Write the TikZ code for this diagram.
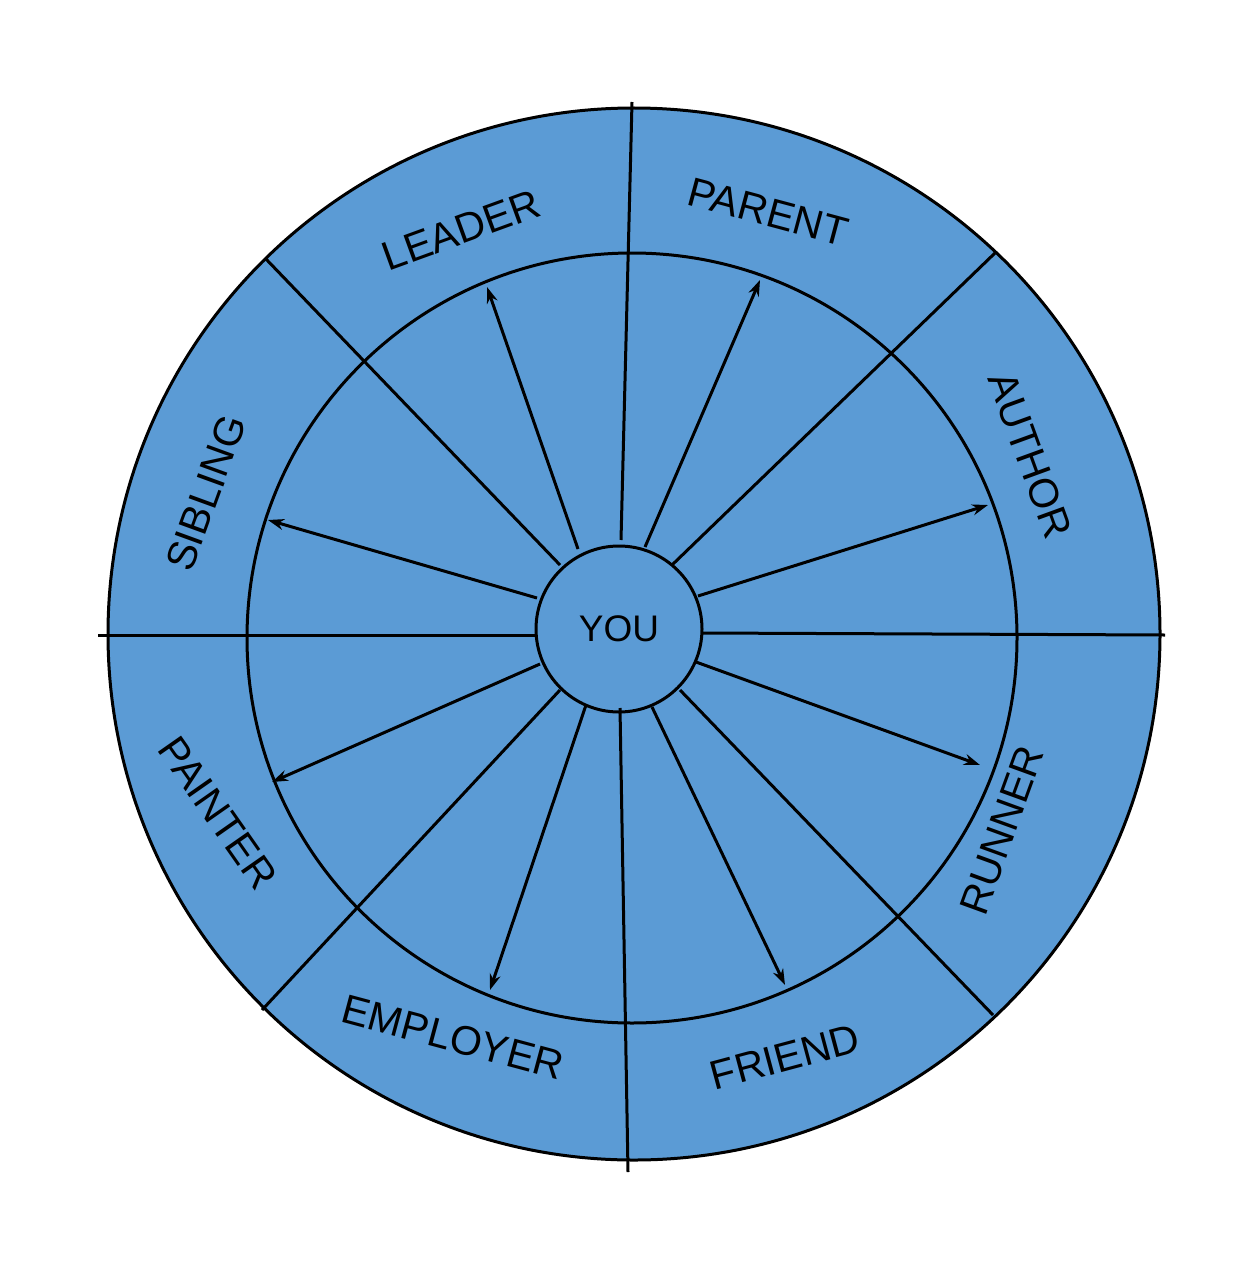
\documentclass[tikz,border=0pt]{standalone}
\usepackage{fontspec}
\setmainfont{Liberation Sans}
\usetikzlibrary{arrows.meta}
\definecolor{wheel}{HTML}{5B9BD5}
\begin{document}
\begin{tikzpicture}[x=1pt,y=-1pt,line width=3pt,
  lbl/.style={font=\fontsize{41}{48}\selectfont},
  arr/.style={-{Stealth[length=16pt,width=11pt]}}]
\useasboundingbox (0,0) rectangle (1240,1268);
\fill[white] (0,0) rectangle (1240,1268);
\node[circle,draw,fill=wheel,minimum size=1052pt,inner sep=0] (outer) at (634,634) {};
\node[circle,draw,minimum size=770pt,inner sep=0] (inner) at (632,638) {};
\node[circle,draw,fill=wheel,minimum size=166pt,inner sep=0,font=\fontsize{37}{44}\selectfont] (you) at (619,629) {YOU};
% dividers
\coordinate (h1) at (98,635); \coordinate (h2) at (536,635);
\coordinate (h3) at (702,633); \coordinate (h4) at (1165,635);
\draw (h1) -- (h2); \draw (h3) -- (h4);
\coordinate (v1) at (632,102); \coordinate (v2) at (621,540);
\coordinate (v3) at (620,708); \coordinate (v4) at (628,1172);
\draw (v1) -- (v2); \draw (v3) -- (v4);
\coordinate (d1) at (265,258); \coordinate (d2) at (560,565);
\coordinate (d3) at (995,253); \coordinate (d4) at (672,565);
\coordinate (d5) at (262,1010); \coordinate (d6) at (560,690);
\coordinate (d7) at (993,1015); \coordinate (d8) at (680,690);
\draw (d1) -- (d2); \draw (d3) -- (d4); \draw (d5) -- (d6); \draw (d7) -- (d8);
% arrows
\foreach \s/\e in {{(578,549)}/{(487,287)},{(645,547)}/{(760,280)},{(698,596)}/{(988,505)},
  {(696,662)}/{(980,765)},{(652,707)}/{(785,985)},{(586,705)}/{(490,990)},
  {(540,664)}/{(272,782)},{(537,598)}/{(268,520)}}
  \draw[arr] \s -- \e;
% labels
\node[lbl,rotate=20] (leader) at (461,230) {LEADER};
\node[lbl,rotate=-15] (parent) at (768,212) {PARENT};
\node[lbl,rotate=-70] (author) at (1030,455) {AUTHOR};
\node[lbl,rotate=70] (runner) at (1002,830) {RUNNER};
\node[lbl,rotate=15] (friend) at (785,1057) {FRIEND};
\node[lbl,rotate=-15] (employer) at (453,1037) {EMPLOYER};
\node[lbl,rotate=-55] (painter) at (218,813) {PAINTER};
\node[lbl,rotate=70] (sibling) at (206,493) {SIBLING};
\end{tikzpicture}
\end{document}
